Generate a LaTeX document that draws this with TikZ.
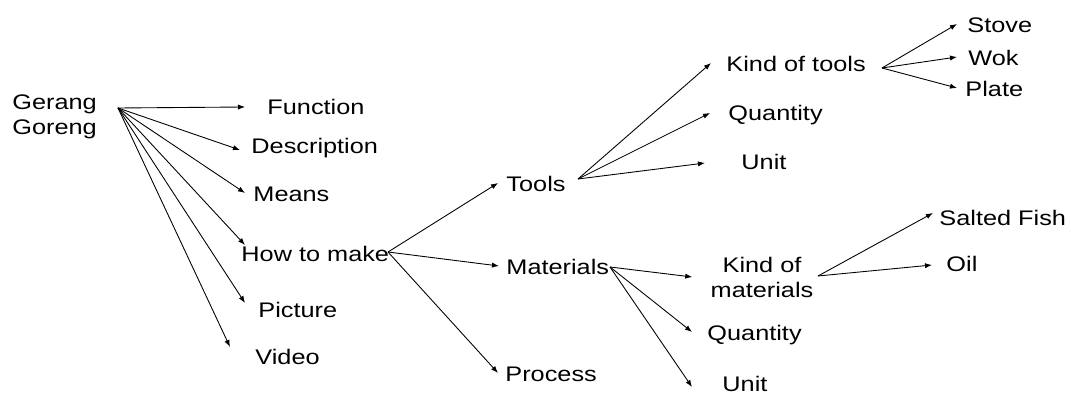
\documentclass[tikz,border=0pt]{standalone}
\usepackage{fontspec}
\setmainfont{Liberation Sans}[FakeStretch=1.2]
\usetikzlibrary{arrows.meta, calc}

\tikzset{
  lbl/.style={anchor=west, inner sep=0pt, font=\fontsize{12}{14.2}\selectfont, text height=1.8ex, text depth=0pt},
  lbltwo/.style={inner sep=0pt, font=\fontsize{12}{14.2}\selectfont},
  >={Latex[length=4pt,width=3pt]}
}

\begin{document}
\begin{tikzpicture}[x=0.02cm, y=-0.02cm, line width=0.5pt]
\useasboundingbox (0,0) rectangle (1071,394);

% first level
\node[lbltwo, anchor=west, align=left] (gg) at (12,117) {Gerang\\Goreng};
\node[lbl] (func) at (267,106) {Function};
\node[lbl] (desc) at (251,145) {Description};
\node[lbl] (means) at (253,193) {Means};
\node[lbl] (make) at (241,253) {How to make};
\node[lbl] (pic) at (258,309) {Picture};
\node[lbl] (video) at (255,356) {Video};

% how to make
\node[lbl] (tools) at (506,183) {Tools};
\node[lbl] (mat) at (506,266) {Materials};
\node[lbl] (proc) at (505,373) {Process};

% tools
\node[lbl] (kot) at (726,63) {Kind of tools};
\node[lbl] (qty1) at (728,112) {Quantity};
\node[lbl] (unit1) at (741,161) {Unit};
\node[lbl] (stove) at (967,24) {Stove};
\node[lbl] (wok) at (968,57) {Wok};
\node[lbl] (plate) at (965,88) {Plate};

% materials
\node[lbltwo, align=center] (kom) at (762,277) {Kind of\\materials};
\node[lbl] (qty2) at (707,332) {Quantity};
\node[lbl] (unit2) at (722,383) {Unit};
\node[lbl] (fish) at (939,217) {Salted Fish};
\node[lbl] (oil) at (946,263) {Oil};

\coordinate (gg-o) at (118,108);
\coordinate (make-o) at (388,252);
\coordinate (tools-o) at (578,179);
\coordinate (mat-o) at (610,267);
\coordinate (kot-o) at (882,68);
\coordinate (kom-o) at (818,276);

\foreach \n/\dx/\dy in {func/-22/1, desc/-11/5, means/-8/0, make/4/-8, pic/-13/-6, video/-25/-9}
  \draw[->] (gg-o) -- ($(\n.west)+(\dx,\dy)$);
\foreach \n/\dx/\dy in {tools/-8/0, mat/-7/0, proc/-7/0}
  \draw[->] (make-o) -- ($(\n.west)+(\dx,\dy)$);
\foreach \n/\dx/\dy in {kot/-15/0, qty1/-18/1, unit1/-36/2}
  \draw[->] (tools-o) -- ($(\n.west)+(\dx,\dy)$);
\foreach \n/\dx/\dy in {kom/-18/0, qty2/-15/0, unit2/-30/4}
  \draw[->] (mat-o) -- ($(\n.west)+(\dx,\dy)$);
\foreach \n/\dx/\dy in {stove/-10/0, wok/-11/0, plate/-8/0}
  \draw[->] (kot-o) -- ($(\n.west)+(\dx,\dy)$);
\foreach \n/\dx/\dy in {fish/-6/-4, oil/-14/2}
  \draw[->] (kom-o) -- ($(\n.west)+(\dx,\dy)$);
\end{tikzpicture}
\end{document}
